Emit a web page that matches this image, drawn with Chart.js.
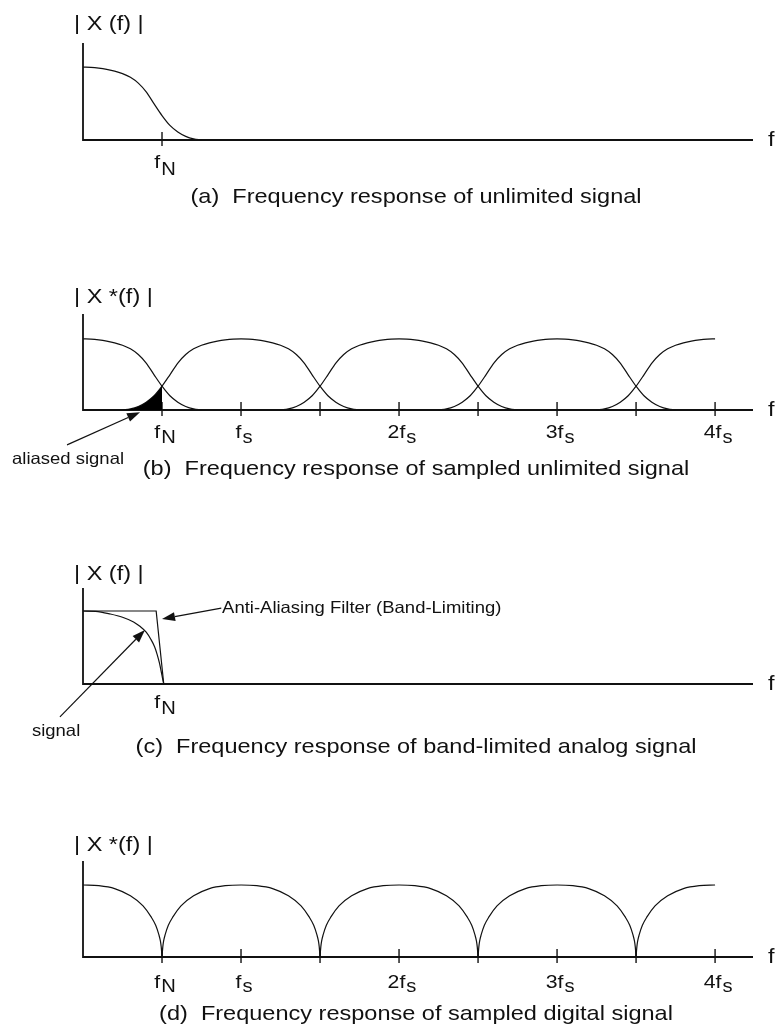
<!DOCTYPE html>
<html>
<head>
<meta charset="utf-8">
<script src="https://cdn.jsdelivr.net/npm/chart.js"></script>
<style>
  html, body { margin: 0; padding: 0; background: #fff; overflow: hidden; }
  body { width: 778px; height: 1030px; position: relative; }
  canvas { position: absolute; left: 0; }
</style>
</head>
<body>
<canvas id="panelA"></canvas>
<canvas id="panelB"></canvas>
<canvas id="panelC"></canvas>
<canvas id="panelD"></canvas>
<script>
// one spectral lobe of the unlimited signal: distance from lobe centre (in fs) -> |X|
const lobeOffset = [0, 0.05, 0.1, 0.15, 0.2, 0.25, 0.3, 0.35, 0.4, 0.45, 0.5, 0.55, 0.6, 0.65, 0.7, 0.75];
const lobeMag = [1, 0.996, 0.985, 0.968, 0.945, 0.91, 0.86, 0.78, 0.66, 0.495, 0.335, 0.2, 0.11, 0.05, 0.015, 0];

// one lobe of the sampled band-limited signal (drops to zero at +-fN)
const notchOffset = [0, 0.1, 0.2, 0.3, 0.38, 0.43, 0.46, 0.48, 0.49, 0.495, 0.5];
const notchMag = [1, 0.99, 0.95, 0.85, 0.71, 0.56, 0.44, 0.31, 0.22, 0.14, 0];

// band-limited analog signal and the anti-aliasing filter
const signalFreq = [0, 0.08, 0.17, 0.25, 0.32, 0.36, 0.4, 0.43, 0.453, 0.47, 0.484, 0.495, 0.505, 0.511];
const signalMag = [1, 0.995, 0.96, 0.915, 0.85, 0.79, 0.71, 0.61, 0.51, 0.4, 0.285, 0.17, 0.06, 0];
const filterFreq = [0, 0.463, 0.511];
const filterMag = [1, 1, 0];

// spectral images at multiples of fs, and the folded band
const imageCentres = [0, 1, 2, 3, 4];
const aliasBand = [0.25, 0.5];

// frequency axis
const tickFreqs = [0.5, 1, 1.5, 2, 2.5, 3, 3.5, 4];
const labelFreqs = [0.5, 1, 2, 3, 4];
const labelMain = ['f', 'f', '2f', '3f', '4f'];
const labelSub = ['N', 's', 's', 's', 's'];

const captions = [
  '(a)  Frequency response of unlimited signal',
  '(b)  Frequency response of sampled unlimited signal',
  '(c)  Frequency response of band-limited analog signal',
  '(d)  Frequency response of sampled digital signal'
];
const yTitles = ['| X (f) |', '| X *(f) |', '| X (f) |', '| X *(f) |'];

const X_MAX = 4.24;
const STRETCH = 1.12;
const FONT = '"Liberation Sans", Arial, Helvetica, sans-serif';
const INK = '#111';

function txt(ctx, str, x, y, size, align) {
  ctx.save();
  ctx.font = size + 'px ' + FONT;
  const w = ctx.measureText(str).width * STRETCH;
  const left = align === 'center' ? x - w / 2 : x;
  ctx.translate(left, y);
  ctx.scale(STRETCH, 1);
  ctx.fillStyle = INK;
  ctx.textAlign = 'left';
  ctx.textBaseline = 'alphabetic';
  ctx.fillText(str, 0, 0);
  ctx.restore();
  return w;
}

function textWidth(ctx, str, size) {
  ctx.save();
  ctx.font = size + 'px ' + FONT;
  const w = ctx.measureText(str).width * STRETCH;
  ctx.restore();
  return w;
}

function arrow(ctx, x1, y1, x2, y2) {
  const ang = Math.atan2(y2 - y1, x2 - x1), len = 13, half = 4.5;
  const bx = x2 - len * Math.cos(ang), by = y2 - len * Math.sin(ang);
  ctx.save();
  ctx.strokeStyle = INK;
  ctx.fillStyle = INK;
  ctx.lineWidth = 1.2;
  ctx.beginPath();
  ctx.moveTo(x1, y1);
  ctx.lineTo(bx, by);
  ctx.stroke();
  ctx.beginPath();
  ctx.moveTo(x2, y2);
  ctx.lineTo(bx + half * Math.sin(ang), by - half * Math.cos(ang));
  ctx.lineTo(bx - half * Math.sin(ang), by + half * Math.cos(ang));
  ctx.closePath();
  ctx.fill();
  ctx.restore();
}

// mirror a half-lobe profile around a centre, keep what lies on the axis
function lobe(centre, offsets, mags) {
  const pts = [];
  for (let i = offsets.length - 1; i >= 0; i--) pts.push({ x: centre - offsets[i], y: mags[i] });
  for (let i = 1; i < offsets.length; i++) pts.push({ x: centre + offsets[i], y: mags[i] });
  const last = imageCentres[imageCentres.length - 1];
  return pts.filter(p => p.x >= 0 && p.x <= last);
}

function curve(points, extra) {
  return Object.assign({
    data: points,
    borderColor: INK,
    borderWidth: 1.2,
    fill: false,
    cubicInterpolationMode: 'monotone',
    pointRadius: 0,
    clip: false
  }, extra || {});
}

function panelPlugin(spec) {
  return {
    id: 'panel' + spec.key,
    beforeDatasetsDraw(chart) {
      const { ctx, chartArea: a, scales: { x, y } } = chart;
      const x0 = x.getPixelForValue(0), yb = y.getPixelForValue(0);
      ctx.save();
      ctx.strokeStyle = INK;
      ctx.lineWidth = 1.8;
      ctx.beginPath();
      ctx.moveTo(x0, a.top);
      ctx.lineTo(x0, yb);
      ctx.lineTo(a.right, yb);
      ctx.stroke();
      ctx.lineWidth = 1.4;
      spec.ticks.forEach(v => {
        const px = x.getPixelForValue(v);
        ctx.beginPath();
        ctx.moveTo(px, yb - 8);
        ctx.lineTo(px, yb + 6);
        ctx.stroke();
      });
      ctx.restore();
    },
    afterDraw(chart) {
      const { ctx, chartArea: a, scales: { x, y } } = chart;
      const yb = y.getPixelForValue(0);

      // tick labels with subscripts
      spec.labels.forEach(i => {
        const px = x.getPixelForValue(labelFreqs[i]) + 3;
        const wm = textWidth(ctx, labelMain[i], 19);
        const ws = textWidth(ctx, labelSub[i], 18);
        const left = px - (wm + ws + 1) / 2;
        txt(ctx, labelMain[i], left, yb + spec.tickBase, 19, 'left');
        txt(ctx, labelSub[i], left + wm + 1, yb + spec.subBase, 18, 'left');
      });

      txt(ctx, 'f', a.right + 15, yb + 6, 21, 'left');
      txt(ctx, yTitles[spec.index], 74, a.top + spec.titleBase, 21, 'left');
      txt(ctx, captions[spec.index], 416, yb + spec.captionBase, 21, 'center');

      (spec.notes || []).forEach(n => {
        txt(ctx, n.text, x.getPixelForValue(n.at[0]), y.getPixelForValue(n.at[1]), 16.5, 'left');
        arrow(ctx, x.getPixelForValue(n.from[0]), y.getPixelForValue(n.from[1]),
          x.getPixelForValue(n.to[0]), y.getPixelForValue(n.to[1]));
      });
    }
  };
}

function makePanel(spec) {
  const canvas = document.getElementById(spec.key);
  canvas.width = 778;
  canvas.height = spec.height;
  canvas.style.top = spec.top + 'px';
  new Chart(canvas, {
    type: 'line',
    data: { datasets: spec.datasets },
    options: {
      responsive: false,
      animation: false,
      devicePixelRatio: 1,
      events: [],
      layout: {
        padding: { left: 83, right: 25, top: 43, bottom: spec.height - 43 - spec.areaH }
      },
      plugins: { legend: { display: false }, tooltip: { enabled: false } },
      scales: {
        x: { type: 'linear', display: false, min: 0, max: X_MAX },
        y: { type: 'linear', display: false, min: 0, max: spec.yMax }
      }
    },
    plugins: [panelPlugin(spec)]
  });
}

// (a) unlimited analog signal
makePanel({
  key: 'panelA', index: 0, top: 0, height: 255, areaH: 97, yMax: 1.33,
  titleBase: -13, tickBase: 28, subBase: 35, captionBase: 63,
  ticks: [tickFreqs[0]], labels: [0],
  datasets: [curve(lobe(imageCentres[0], lobeOffset, lobeMag))]
});

// (b) sampled unlimited signal, images overlap and fold back below fN
const aliasPts = lobe(imageCentres[1], lobeOffset, lobeMag)
  .filter(p => p.x >= aliasBand[0] && p.x <= aliasBand[1]);
makePanel({
  key: 'panelB', index: 1, top: 271, height: 255, areaH: 96, yMax: 1.35,
  titleBase: -11, tickBase: 28, subBase: 33, captionBase: 65,
  ticks: tickFreqs, labels: [0, 1, 2, 3, 4],
  notes: [{ text: 'aliased signal', at: [-0.449, -0.76], from: [-0.101, -0.49], to: [0.361, -0.03] }],
  datasets: [curve(aliasPts, { fill: 'origin', backgroundColor: '#000', borderWidth: 0 })]
    .concat(imageCentres.map(c => curve(lobe(c, lobeOffset, lobeMag))))
});

// (c) band-limited analog signal behind the anti-aliasing filter
makePanel({
  key: 'panelC', index: 2, top: 545, height: 255, areaH: 96, yMax: 1.315,
  titleBase: -8, tickBase: 24, subBase: 30, captionBase: 69,
  ticks: [], labels: [0],
  notes: [
    { text: 'Anti-Aliasing Filter (Band-Limiting)', at: [0.88, 0.97], from: [0.875, 1.04], to: [0.5, 0.89] },
    { text: 'signal', at: [-0.323, -0.71], from: [-0.146, -0.45], to: [0.392, 0.74] }
  ],
  datasets: [
    curve(filterFreq.map((f, i) => ({ x: f, y: filterMag[i] })), { cubicInterpolationMode: 'default', tension: 0 }),
    curve(signalFreq.map((f, i) => ({ x: f, y: signalMag[i] })))
  ]
});

// (d) sampled band-limited signal, images just touch at odd multiples of fN
makePanel({
  key: 'panelD', index: 3, top: 818, height: 212, areaH: 96, yMax: 1.333,
  titleBase: -10, tickBase: 31, subBase: 35, captionBase: 63,
  ticks: tickFreqs, labels: [0, 1, 2, 3, 4],
  datasets: imageCentres.map(c => curve(lobe(c, notchOffset, notchMag)))
});
</script>
</body>
</html>
